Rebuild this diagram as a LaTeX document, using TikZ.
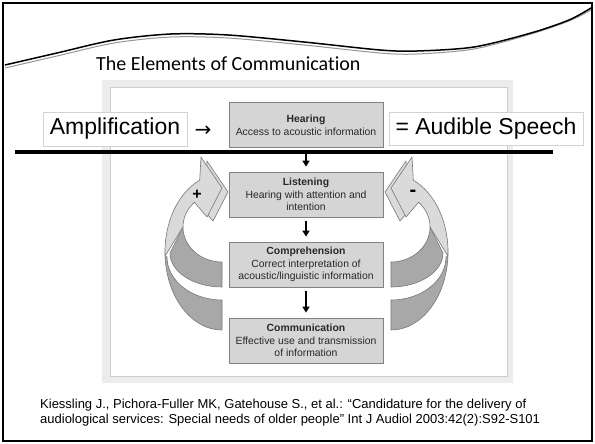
\documentclass[tikz,border=0pt]{standalone}
\usepackage{fontspec}
\setmainfont{Liberation Sans}
\newfontfamily\titlefont[Ligatures=NoCommon]{Carlito}
\newfontfamily\symfont{DejaVu Sans}
\usetikzlibrary{calc,arrows.meta}
\definecolor{boxfill}{RGB}{213,213,213}
\definecolor{boxline}{RGB}{130,130,130}
\definecolor{boxtext}{RGB}{40,40,40}
\definecolor{lightarrow}{RGB}{218,218,218}
\definecolor{darkband}{RGB}{168,168,168}
\definecolor{fbedge}{RGB}{120,120,120}
\definecolor{framegray}{RGB}{236,236,236}
\definecolor{panelline}{RGB}{205,205,205}
\definecolor{tboxline}{RGB}{210,210,210}
\definecolor{wavegray}{RGB}{150,150,150}
\newcommand\fbarrow{%
  % band from Communication
  \draw[fbline, fill=darkband] (222,-330) arc[start angle=270, end angle=183, x radius=57pt, y radius=78pt]
     -- (167,-257) arc[start angle=180, end angle=270, x radius=55pt, y radius=43pt] -- cycle;
  % band from Comprehension
  \draw[fbline, fill=darkband] (222,-262) arc[start angle=270, end angle=180, x radius=39pt, y radius=35pt]
     -- (170,-253) arc[start angle=180, end angle=270, x radius=52pt, y radius=34pt] -- cycle;
  % shadow head
  \draw[fbline, fill=lightarrow, shift={(6,-4)}] (199.7,-180.2) -- (201,-157) -- (222,-188) -- (207,-217) -- (194.4,-202.3) -- cycle;
  % light body with head
  \draw[fbline, fill=lightarrow] (199.7,-180.2) arc[start angle=113, end angle=183, x radius=57pt, y radius=78pt]
     -- (183,-227) arc[start angle=180, end angle=135, x radius=39pt, y radius=35pt]
     -- (207,-217) -- (222,-188) -- (201,-157) -- cycle;
}
\begin{document}
\begin{tikzpicture}[x=1pt,y=1pt,
  dbox/.style={draw=boxline, fill=boxfill, line width=0.8pt, minimum width=154pt, minimum height=45pt,
    inner sep=0pt, align=center, text=boxtext, font=\fontsize{10.4}{12.6}\selectfont},
  tbox/.style={draw=tboxline, fill=white, line width=0.7pt, inner sep=0pt,
    font=\fontsize{23}{27}\selectfont},
  darr/.style={line width=1.5pt, -{Triangle[length=6pt, width=7pt]}, shorten <=4pt, shorten >=5pt},
  fbline/.style={draw=fbedge, line width=0.6pt, line join=round}]
\useasboundingbox (0,0) rectangle (595,-444);
\fill[white] (0,0) rectangle (595,-444);
% slide border
\draw[line width=2.5pt] (3,-3) rectangle (592,-441);
% wavy ribbon
\draw[wavegray, line width=1pt] plot[smooth] coordinates {(5,-68) (57,-56) (114,-43) (171,-37) (228,-38) (304,-45) (380,-53) (417,-54) (474,-49) (531,-34) (569,-21) (591,-10)};
\draw[black, line width=1.5pt] plot[smooth] coordinates {(5,-65) (57,-53) (114,-40) (171,-34) (228,-35) (304,-42) (380,-50) (417,-51) (474,-47) (531,-33) (569,-20) (591,-8)};
% title
\node[anchor=base west, inner sep=0pt, font=\titlefont\fontsize{20}{24}\selectfont] (title) at (96,-71) {The Elements of Communication};
% figure frame
\fill[framegray] (102,-80) rectangle (513,-383);
\draw[panelline, fill=white, line width=0.8pt] (110,-87) rectangle (507,-376);
% feedback arrows
\fbarrow
\begin{scope}[xshift=613pt, xscale=-1]
\fbarrow
\end{scope}
\node[font=\bfseries\fontsize{16}{16}\selectfont] (plus) at (197,-195) {+};
\node[font=\bfseries\fontsize{20}{20}\selectfont] (minus) at (413,-193) {-};
% boxes
\node[dbox] (hear) at (306,-125) {\textbf{Hearing}\\Access to acoustic information};
\node[dbox] (listen) at (306,-194.5) {\textbf{Listening}\\Hearing with attention and\\intention};
\node[dbox] (compr) at (306,-264.5) {\textbf{Comprehension}\\Correct interpretation of\\acoustic/linguistic information};
\node[dbox] (comm) at (306,-340.5) {\textbf{Communication}\\Effective use and transmission\\of information};
\draw[darr] (hear) -- (listen);
\draw[darr] (listen) -- (compr);
\draw[darr] (compr) -- (comm);
% overlay labels
\node[tbox, minimum width=144pt, minimum height=34pt] (amp) at (115,-129) {Amplification};
\node[font=\symfont\fontsize{20}{20}\selectfont, inner sep=0pt] (arr) at (203,-131) {→};
\node[tbox, minimum width=194pt, minimum height=33pt] (aud) at (486,-128.5) {= Audible Speech};
\coordinate (lineL) at (15,-152);
\coordinate (lineR) at (553,-152);
\draw[line width=4pt] (lineL) -- (lineR);
% citation
\node[anchor=north west, align=left, inner sep=0pt, font=\fontsize{13}{15}\selectfont] (cite) at (40,-399)
  {Kiessling J., Pichora-Fuller MK, Gatehouse S., et al.: “Candidature for the delivery of\\
   audiological services: Special needs of older people” Int J Audiol 2003:42(2):S92-S101};
\end{tikzpicture}
\end{document}
